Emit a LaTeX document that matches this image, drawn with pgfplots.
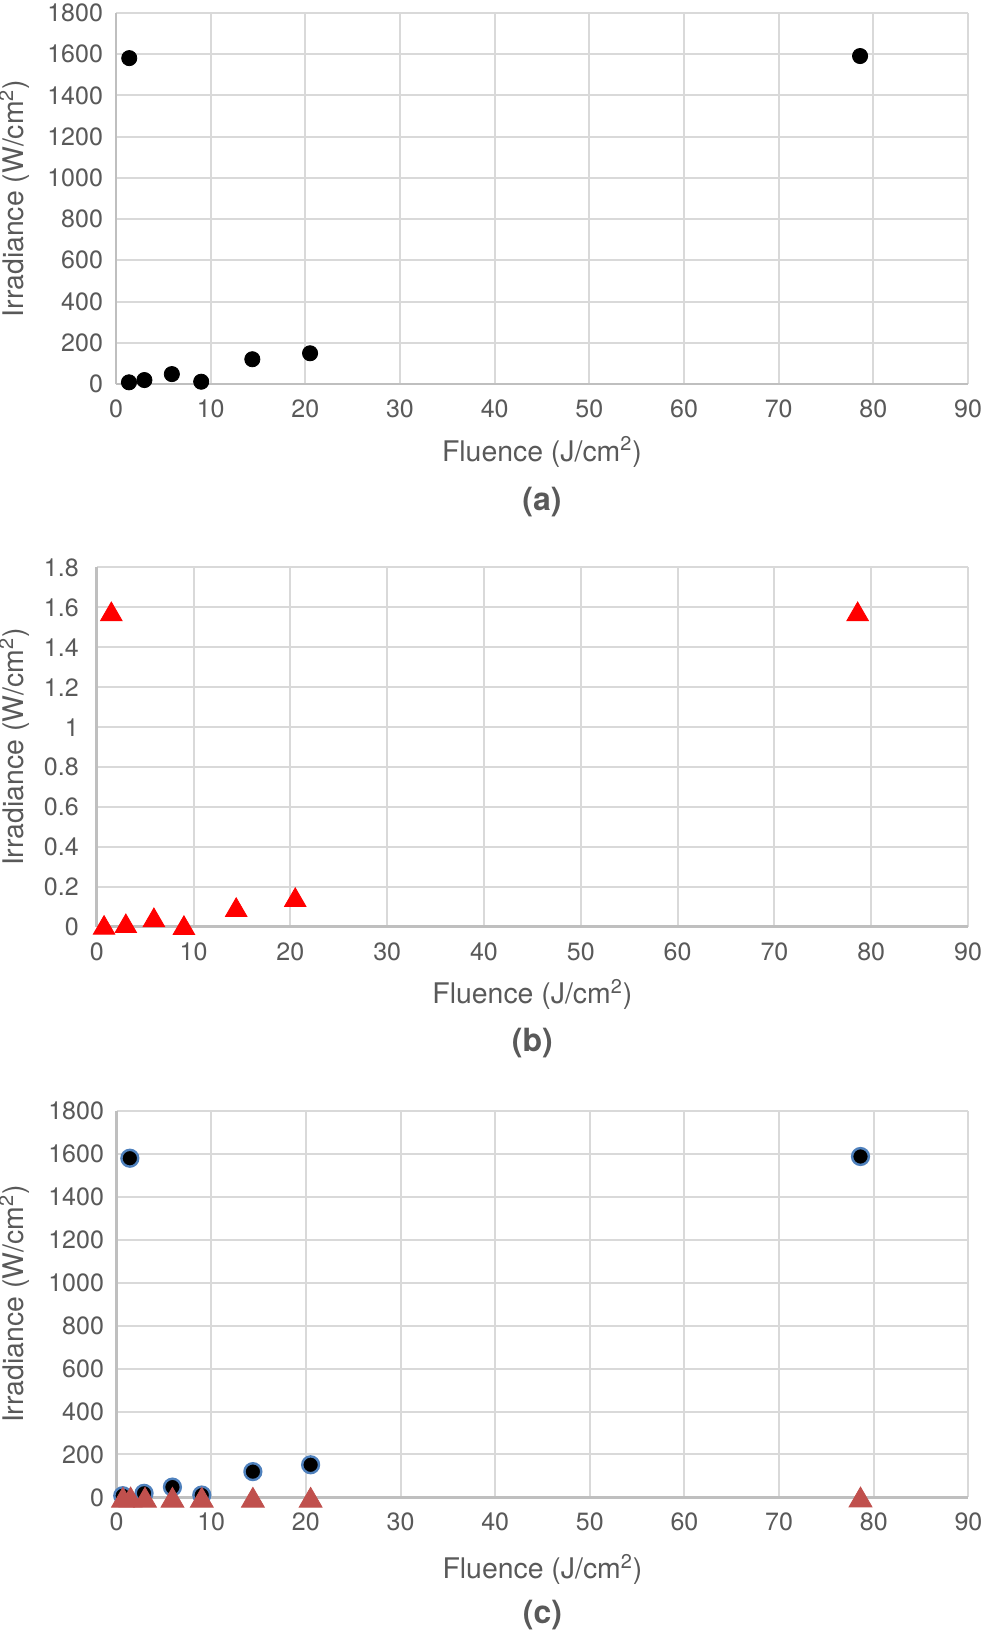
\documentclass[border=0pt]{standalone}
\usepackage{fontspec}
\setmainfont{TeX Gyre Heros}
\usepackage{pgfplots}
\pgfplotsset{compat=1.18}
\definecolor{tickgray}{HTML}{595959}
\definecolor{gridgray}{HTML}{D9D9D9}
\definecolor{axisgray}{HTML}{BFBFBF}
\definecolor{exblue}{HTML}{4F81BD}
\definecolor{exred}{HTML}{C0504D}
\pgfplotsset{excel/.style={
  scale only axis, clip=false,
  xmin=0, xmax=90, xtick={0,10,...,90},
  axis x line*=bottom, axis y line*=left,
  axis line style={axisgray, line width=1.3pt, -},
  grid=major, major grid style={gridgray, line width=1pt},
  major tick length=0pt, tick style={draw=none},
  ticklabel style={font=\fontsize{12.5}{14}\selectfont, text=tickgray},
  label style={font=\fontsize{14.2}{16}\selectfont, text=tickgray},
  /pgf/number format/assume math mode=true,
  /pgf/number format/1000 sep={},
  scaled ticks=false,
  xticklabel style={yshift=-4.3pt},
  xlabel={Fluence (J/cm\textsuperscript{2})},
  ylabel={Irradiance (W/cm\textsuperscript{2})},
}}
\begin{document}
\begin{tikzpicture}
\useasboundingbox (0,0) rectangle (492pt,816pt);
% (a)
\begin{axis}[excel, at={(58pt,624pt)}, anchor=south west,
  width=426pt, height=185.5pt,
  ymin=0, ymax=1800, ytick={0,200,...,1800},
  yticklabel style={xshift=-3pt},
  xlabel style={at={(axis description cs:0.5,0)}, anchor=center, yshift=-34pt},
  ylabel style={at={(axis description cs:0,0.5)}, anchor=center, inner sep=0pt, yshift=50.9pt}]
\addplot[only marks, mark=*, mark size=3.8pt, mark options={fill=black, draw=black}] coordinates {
(1.4,1581) (78.6,1591) (1.37,8) (3.0,19) (5.9,48) (9.0,11) (14.4,120) (20.5,149)};
\node[font=\fontsize{16}{18}\selectfont\bfseries, text=tickgray] at (axis description cs:0.5,0) [yshift=-59pt] {(a)};
\end{axis}
% (b)
\begin{axis}[excel, at={(48.4pt,352.6pt)}, anchor=south west,
  width=435.6pt, height=179.65pt,
  ymin=0, ymax=1.8, ytick={0,0.2,...,1.8},
  yticklabels={0,0.2,0.4,0.6,0.8,1,1.2,1.4,1.6,1.8},
  yticklabel style={xshift=-5.5pt},
  xlabel style={at={(axis description cs:0.5,0)}, anchor=center, yshift=-33.8pt},
  ylabel style={at={(axis description cs:0,0.5)}, anchor=center, inner sep=0pt, yshift=41.3pt}]
\addplot[only marks, mark=triangle*, mark size=6.2pt, mark options={fill=red, draw=red, yshift=-1.5pt}] coordinates {
(0.75,0.009) (1.5,1.58) (3.0,0.017) (5.9,0.047) (9.0,0.008) (14.4,0.098) (20.5,0.148) (78.6,1.58)};
\node[font=\fontsize{16}{18}\selectfont\bfseries, text=tickgray] at (axis description cs:0.5,0) [yshift=-58.3pt] {(b)};
\end{axis}
% (c)
\begin{axis}[excel, at={(58.3pt,67.3pt)}, anchor=south west,
  width=425.9pt, height=193.2pt,
  ymin=0, ymax=1800, ytick={0,200,...,1800},
  yticklabel style={xshift=-2.8pt},
  xlabel style={at={(axis description cs:0.5,0)}, anchor=center, yshift=-36pt},
  ylabel style={at={(axis description cs:0,0.5)}, anchor=center, inner sep=0pt, yshift=51.2pt}]
\addplot[only marks, mark=*, mark size=4.2pt, mark options={fill=black, draw=exblue, line width=1.2pt}] coordinates {
(0.65,8) (1.4,1580) (2.9,19) (5.9,48) (9.0,11) (14.4,120) (20.5,152) (78.6,1588)};
\addplot[only marks, mark=triangle*, mark size=6.6pt, mark options={fill=exred, draw=exred, yshift=-1.6pt}] coordinates {
(0.67,0.009) (1.48,1.58) (3.0,0.017) (5.9,0.047) (9.0,0.008) (14.4,0.098) (20.5,0.148) (78.6,1.58)};
\node[font=\fontsize{16}{18}\selectfont\bfseries, text=tickgray] at (axis description cs:0.5,0) [yshift=-58.8pt] {(c)};
\end{axis}
\end{tikzpicture}
\end{document}
